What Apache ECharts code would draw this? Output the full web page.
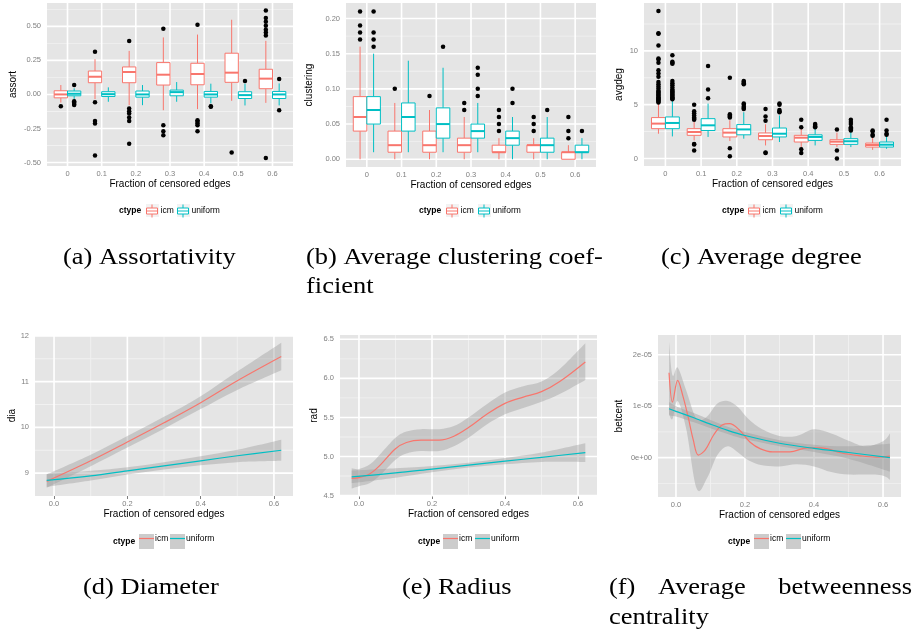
<!DOCTYPE html>
<html><head><meta charset="utf-8">
<script src="https://cdn.jsdelivr.net/npm/echarts@6/dist/echarts.min.js"></script>
<style>html,body{margin:0;padding:0;background:#fff}#chart{width:914px;height:633px}</style>
</head><body><div id="chart"></div>
<script>
// ---------- categories ----------
const fractions = ['0','0.1','0.2','0.3','0.4','0.5','0.6'];
// ---------- (a) assortativity: [lower whisker, Q1, median, Q3, upper whisker] ----------
const assortIcmStats = [[-0.06,-0.025,0.0,0.027,0.069],[-0.034,0.086,0.13,0.172,0.259],[-0.079,0.086,0.165,0.202,0.32],[-0.116,0.069,0.145,0.234,0.419],[-0.108,0.071,0.15,0.229,0.44],[-0.047,0.089,0.16,0.303,0.549],[-0.062,0.042,0.116,0.185,0.394]];
const assortIcmOutliers = [[-0.086],[0.313,-0.057,-0.195,-0.214,-0.448],[0.392,-0.103,-0.123,-0.14,-0.17,-0.195,-0.362],[0.483,-0.227,-0.27,-0.3],[0.512,-0.19,-0.2,-0.214,-0.227,-0.27],[-0.426],[0.433,0.456,0.475,0.505,0.534,0.562,0.616,-0.468]];
const assortUniformStats = [[-0.037,-0.01,0.005,0.025,0.045],[-0.054,-0.015,0.002,0.02,0.052],[-0.079,-0.02,0,0.025,0.069],[-0.054,-0.01,0.017,0.032,0.091],[-0.066,-0.02,0,0.022,0.079],[-0.081,-0.03,-0.005,0.02,0.079],[-0.081,-0.03,0,0.022,0.081]];
const assortUniformOutliers = [[0.069,-0.05,-0.06,-0.07,-0.077],[],[],[],[-0.086,-0.09],[0.099],[0.113,-0.116]];
const assortTicks = [-0.5,-0.25,0,0.25,0.5];
const assortMinor = [-0.375,-0.125,0.125,0.375,0.625];
// ---------- (b) clustering ----------
const clustIcmStats = [[0,0.04,0.06,0.089,0.16],[0,0.01,0.02,0.04,0.08],[0,0.01,0.02,0.04,0.07],[0,0.01,0.02,0.03,0.06],[0,0.01,0.01,0.02,0.03],[0,0.01,0.02,0.02,0.03],[0,0,0.01,0.01,0.02]];
const clustIcmOutliers = [[0.17,0.18,0.19,0.21],[0.1],[0.09],[0.07,0.08],[0.04,0.05,0.06,0.07],[0.04,0.05,0.06],[0.03,0.04,0.06]];
const clustUniformStats = [[0.01,0.05,0.07,0.089,0.15],[0.01,0.04,0.06,0.08,0.14],[0.01,0.03,0.05,0.073,0.13],[0.01,0.03,0.04,0.05,0.08],[0,0.02,0.03,0.04,0.06],[0,0.01,0.02,0.03,0.06],[0,0.01,0.01,0.02,0.03]];
const clustUniformOutliers = [[0.16,0.17,0.18,0.21],[],[0.16],[0.09,0.1,0.12,0.13],[0.08,0.1],[0.07],[0.04]];
const clustTicks = [0,0.05,0.1,0.15,0.2];
const clustMinor = [0.025,0.075,0.125,0.175];
// ---------- (c) average degree ----------
const avgdegIcmStats = [[2.3,2.77,3.24,3.8,5.1],[1.68,2.15,2.46,2.77,3.4],[1.62,2.0,2.4,2.77,3.55],[1.21,1.74,2.09,2.37,3.18],[1.06,1.53,1.93,2.15,2.83],[1.06,1.31,1.56,1.74,2.4],[0.8,1.06,1.25,1.43,2.0]];
const avgdegIcmOutliers = [[5.2,5.3,5.4,5.5,5.6,5.7,5.8,5.9,6.0,6.1,6.2,6.3,6.5,6.7,6.9,7.1,7.6,7.9,8.2,8.9,9.2,9.3,10.5,11.6,11.65,13.7],[3.6,3.7,3.8,4.0,4.2,4.4,5.0,1.3,1.35,0.75],[3.8,3.9,4.0,4.1,7.5,0.95,0.2],[3.5,3.9,4.6,0.5,0.55],[2.9,3.6,0.85,0.5],[2.7,0.75,0.0],[2.1,2.2,2.5,2.6]];
const avgdegUniformStats = [[2.05,2.77,3.3,3.86,5.4],[2.0,2.6,3.08,3.7,5.1],[1.84,2.2,2.7,3.15,4.3],[1.53,2.0,2.3,2.83,4.0],[1.21,1.68,2.0,2.2,2.77],[1.06,1.31,1.6,1.84,2.46],[0.9,1.06,1.28,1.53,2.15]];
const avgdegUniformOutliers = [[5.5,5.6,5.7,5.8,5.9,6.0,6.1,6.2,6.3,6.4,6.6,6.8,7.0,7.2,8.8,8.9,9.0,9.6],[5.6,6.4,8.6],[4.6,4.7,4.8,5.0,5.1,6.9,7.0,7.1,7.2],[4.3,4.4,4.5,5.0,5.1],[2.9,3.0,3.1,3.2],[2.6,2.7,2.8,2.9,3.2,3.4,3.6],[2.2,2.3,2.6,3.6]];
const avgdegTicks = [0,5,10];
const avgdegMinor = [2.5,7.5,12.5];
// ---------- (d) diameter ----------
const diaX = [-0.02,0.1,0.2,0.3,0.4,0.5,0.62];
const diaIcm = [8.82,9.27,9.68,10.1,10.54,11.02,11.55];
const diaIcmLo = [8.68,9.15,9.56,9.97,10.4,10.82,11.25];
const diaIcmHi = [8.97,9.40,9.81,10.23,10.68,11.22,11.85];
const diaUniform = [8.84,8.94,9.05,9.16,9.27,9.38,9.5];
const diaUniformLo = [8.7,8.84,8.97,9.08,9.17,9.24,9.27];
const diaUniformHi = [8.98,9.05,9.13,9.24,9.37,9.51,9.73];
const diaTicks = [9,10,11,12];
const diaMinor = [9.5,10.5,11.5];
// ---------- (e) radius ----------
const radIcmX = [-0.02,0.0,0.03,0.06,0.1,0.13,0.17,0.22,0.26,0.3,0.35,0.4,0.45,0.5,0.55,0.62];
const radIcm = [4.72,4.73,4.78,4.9,5.1,5.18,5.21,5.21,5.26,5.37,5.54,5.68,5.76,5.83,5.96,6.21];
const radIcmLo = [4.59,4.62,4.66,4.77,4.96,5.04,5.07,5.07,5.13,5.24,5.41,5.54,5.62,5.7,5.8,5.98];
const radIcmHi = [4.85,4.84,4.9,5.04,5.24,5.32,5.35,5.35,5.39,5.5,5.67,5.82,5.9,5.96,6.12,6.45];
const radUniformX = [-0.02,0.1,0.2,0.3,0.4,0.5,0.62];
const radUniform = [4.74,4.79,4.84,4.89,4.94,4.99,5.05];
const radUniformLo = [4.66,4.73,4.8,4.86,4.9,4.93,4.93];
const radUniformHi = [4.82,4.85,4.88,4.92,4.98,5.05,5.17];
const radTicks = [4.5,5.0,5.5,6.0,6.5];
const radMinor = [4.75,5.25,5.75,6.25];
// ---------- (f) betweenness centrality ----------
const betIcmX = [-0.02,-0.01,0.005,0.02,0.035,0.05,0.065,0.085,0.11,0.135,0.155,0.185,0.215,0.245,0.28,0.33,0.38,0.42,0.48,0.53,0.58,0.62];
const betIcm = [1.65e-5,1.08e-5,1.5e-5,1.2e-5,0.8e-5,0.35e-5,0.05e-5,0.15e-5,0.45e-5,0.64e-5,0.66e-5,0.53e-5,0.3e-5,0.17e-5,0.11e-5,0.11e-5,0.19e-5,0.19e-5,0.09e-5,0.04e-5,0.01e-5,0.03e-5];
const betIcmBandX = [-0.02,-0.01,0.005,0.03,0.06,0.09,0.12,0.15,0.18,0.21,0.25,0.3,0.35,0.4,0.45,0.5,0.55,0.6,0.62];
const betIcmLo = [0.85e-5,0.75e-5,1.1e-5,0.55e-5,-0.6e-5,-0.4e-5,0.05e-5,0.22e-5,0.1e-5,-0.05e-5,-0.15e-5,-0.17e-5,-0.13e-5,-0.17e-5,-0.28e-5,-0.33e-5,-0.33e-5,-0.35e-5,-0.43e-5];
const betIcmHi = [2.25e-5,1.6e-5,1.75e-5,1.3e-5,0.75e-5,0.8e-5,1.05e-5,1.1e-5,0.98e-5,0.75e-5,0.55e-5,0.42e-5,0.42e-5,0.55e-5,0.47e-5,0.33e-5,0.22e-5,0.32e-5,0.47e-5];
const betUniformX = [-0.02,0.0,0.05,0.1,0.15,0.2,0.3,0.4,0.5,0.62];
const betUniform = [0.95e-5,0.9e-5,0.78e-5,0.65e-5,0.53e-5,0.43e-5,0.28e-5,0.18e-5,0.1e-5,0.0];
const betUniformLo = [0.82e-5,0.8e-5,0.69e-5,0.57e-5,0.46e-5,0.36e-5,0.22e-5,0.11e-5,-0.02e-5,-0.27e-5];
const betUniformHi = [1.08e-5,1.0e-5,0.87e-5,0.73e-5,0.6e-5,0.5e-5,0.34e-5,0.25e-5,0.22e-5,0.27e-5];
const betTicks = [0,1e-5,2e-5];
const betMinor = [-0.5e-5,0.5e-5,1.5e-5];
// continuous x ticks
const fracTicks = [0,0.2,0.4,0.6];
const fracMinor = [0.1,0.3,0.5];

// ---------- styling ----------
const ICM = '#F8766D', UNI = '#00BFC4';
const SANS = 'Liberation Sans', SERIF = 'Liberation Serif';
const LABEL = {fontSize: 7.5, color: '#7F7F7F', fontFamily: SANS};
const TITLE = {fontSize: 10, color: '#000', fontFamily: SANS};
const TICK = {show: true, length: 3, lineStyle: {color: '#7F7F7F', width: 1}};
const BOX_W = 0.39, DODGE = 0.195;
const grids = [
  {left: 47, top: 3, width: 246, height: 163},
  {left: 346, top: 3, width: 250, height: 164},
  {left: 644, top: 3, width: 257, height: 163},
  {left: 35, top: 335, width: 258, height: 161},
  {left: 340, top: 335, width: 257, height: 161},
  {left: 658, top: 335, width: 243, height: 162}
].map(g => Object.assign({show: false, containLabel: false}, g));

const catIdx = fractions.map((f, i) => i);
const BOX_X = [-0.6, 6.6], CONT_X = [-0.052, 0.652];
function xBox(gi) {
  return {type: 'value', gridIndex: gi, min: BOX_X[0], max: BOX_X[1],
    name: 'Fraction of censored edges', nameLocation: 'middle', nameGap: 12, nameTextStyle: TITLE,
    axisLine: {show: false}, splitLine: {show: false},
    axisTick: Object.assign({customValues: catIdx}, TICK),
    axisLabel: Object.assign({customValues: catIdx, margin: 4, formatter: v => fractions[Math.round(v)]}, LABEL)};
}
function xCont(gi) {
  return {type: 'value', gridIndex: gi, min: CONT_X[0], max: CONT_X[1],
    name: 'Fraction of censored edges', nameLocation: 'middle', nameGap: 13, nameTextStyle: TITLE,
    axisLine: {show: false}, splitLine: {show: false},
    axisTick: Object.assign({customValues: fracTicks}, TICK),
    axisLabel: Object.assign({customValues: fracTicks, margin: 4, formatter: v => v.toFixed(1)}, LABEL)};
}
function yAx(gi, name, min, max, ticks, fmt, gap) {
  return {type: 'value', gridIndex: gi, min, max, name, nameLocation: 'middle', nameGap: gap, nameTextStyle: TITLE,
    axisLine: {show: false}, splitLine: {show: false},
    axisTick: Object.assign({customValues: ticks}, TICK),
    axisLabel: Object.assign({customValues: ticks, margin: 6, formatter: fmt}, LABEL)};
}
const expFmt = v => {
  if (Math.abs(v) < 1e-12) return '0e+00';
  return v.toExponential(0).replace(/e([+-])(\d+)$/, (m, s, d) => 'e' + s + (d.length < 2 ? '0' + d : d));
};

// ---------- series builders ----------
// grey panel background + grid strips, all placed through the panel's own scales
function panelSeries(gi, xMajor, xMinor, yMajor, yMinor, xRef, yRef) {
  return {type: 'custom', name: 'panel' + gi, xAxisIndex: gi, yAxisIndex: gi, z: 1, silent: true,
    data: [[xRef, yRef]], encode: {x: 0, y: 1}, clip: false,
    renderItem: (params, api) => {
      const cs = params.coordSys;
      const children = [{type: 'rect', shape: {x: cs.x, y: cs.y, width: cs.width, height: cs.height}, style: {fill: '#E5E5E5'}}];
      const hStrip = (v, w, fill) => {
        const y = api.coord([xRef, v])[1];
        children.push({type: 'rect', shape: {x: cs.x, y: y - w / 2, width: cs.width, height: w}, style: {fill}});
      };
      const vStrip = (v, w, fill) => {
        const x = api.coord([v, yRef])[0];
        children.push({type: 'rect', shape: {x: x - w / 2, y: cs.y, width: w, height: cs.height}, style: {fill}});
      };
      yMinor.forEach(v => hStrip(v, 0.9, '#F1F1F1'));
      xMinor.forEach(v => vStrip(v, 0.9, '#F1F1F1'));
      yMajor.forEach(v => hStrip(v, 1.6, '#FFFFFF'));
      xMajor.forEach(v => vStrip(v, 1.6, '#FFFFFF'));
      return {type: 'group', children};
    }};
}
function boxSeries(gi, name, stats, offset, color) {
  return {type: 'custom', name, xAxisIndex: gi, yAxisIndex: gi, z: 4, silent: true,
    data: stats.map((s, i) => [i].concat(s)),
    encode: {x: 0, y: [1, 2, 3, 4, 5]},
    itemStyle: {color},
    renderItem: (params, api) => {
      const x = api.value(0) + offset;
      const half = api.size([BOX_W, 0])[0] / 2;
      const lo = api.coord([x, api.value(1)]), q1 = api.coord([x, api.value(2)]),
            md = api.coord([x, api.value(3)]), q3 = api.coord([x, api.value(4)]), hi = api.coord([x, api.value(5)]);
      const st = {stroke: color, lineWidth: 1, fill: null};
      return {type: 'group', children: [
        {type: 'line', shape: {x1: lo[0], y1: lo[1], x2: q1[0], y2: q1[1]}, style: st},
        {type: 'line', shape: {x1: q3[0], y1: q3[1], x2: hi[0], y2: hi[1]}, style: st},
        {type: 'rect', shape: {x: q1[0] - half, y: q3[1], width: half * 2, height: Math.max(q1[1] - q3[1], 0.5)},
          style: {fill: '#FFFFFF', stroke: color, lineWidth: 1}},
        {type: 'line', shape: {x1: md[0] - half, y1: md[1], x2: md[0] + half, y2: md[1]}, style: {stroke: color, lineWidth: 2}}
      ]};
    }};
}
function outlierSeries(gi, name, outliers, offset) {
  const data = [];
  outliers.forEach((arr, i) => arr.forEach(v => data.push([i + offset, v])));
  return {type: 'scatter', name, xAxisIndex: gi, yAxisIndex: gi, data, symbolSize: 4.5, z: 5, silent: true,
    itemStyle: {color: '#000', opacity: 1}};
}
function smoothPath(pts, cmd) {
  let d = cmd + pts[0][0] + ',' + pts[0][1];
  const t = 1 / 6;
  for (let i = 0; i < pts.length - 1; i++) {
    const p0 = pts[Math.max(i - 1, 0)], p1 = pts[i], p2 = pts[i + 1], p3 = pts[Math.min(i + 2, pts.length - 1)];
    const c1 = [p1[0] + (p2[0] - p0[0]) * t, p1[1] + (p2[1] - p0[1]) * t];
    const c2 = [p2[0] - (p3[0] - p1[0]) * t, p2[1] - (p3[1] - p1[1]) * t];
    d += 'C' + c1[0] + ',' + c1[1] + ' ' + c2[0] + ',' + c2[1] + ' ' + p2[0] + ',' + p2[1];
  }
  return d;
}
function bandSeries(gi, name, xs, lo, hi) {
  const rows = xs.map((x, i) => [x, lo[i], hi[i]]);
  return {type: 'custom', name, xAxisIndex: gi, yAxisIndex: gi, z: 3, silent: true,
    data: rows, encode: {x: 0, y: [1, 2]},
    renderItem: (params, api) => {
      if (params.dataIndex !== 0) return null;
      const top = rows.map(r => api.coord([r[0], r[2]]));
      const bot = rows.map(r => api.coord([r[0], r[1]])).reverse();
      return {type: 'path', shape: {pathData: smoothPath(top, 'M') + smoothPath(bot, 'L') + 'Z'},
        style: {fill: 'rgba(153,153,153,0.4)', stroke: null, lineWidth: 0}};
    }};
}
function lineSeries(gi, name, xs, ys, color) {
  return {type: 'line', name, xAxisIndex: gi, yAxisIndex: gi, z: 4, silent: true,
    data: xs.map((x, i) => [x, ys[i]]), smooth: 0.35, symbol: 'none', showSymbol: false,
    lineStyle: {color, width: 1.2}, itemStyle: {color}};
}

// ---------- legends ----------
const BOX_ICON = 'path://M6.5,0L6.5,3.5M1,3.5L12,3.5L12,9.5L1,9.5ZM1,6.5L12,6.5M6.5,9.5L6.5,13';
const LINE_ICON = 'path://M0,0L15,0L15,1.2L0,1.2Z';
const legendRows = [
  {ctype: 119, keys: [146, 177], top: 204, size: 13, kind: 'box', pad: -3},
  {ctype: 419, keys: [446, 478], top: 204, size: 13, kind: 'box', pad: -3},
  {ctype: 722, keys: [748, 780], top: 204, size: 13, kind: 'box', pad: -3},
  {ctype: 113, keys: [139, 170], top: 534, size: 15, kind: 'line', pad: -4},
  {ctype: 418, keys: [443, 475], top: 534, size: 15, kind: 'line', pad: -4},
  {ctype: 728, keys: [754, 786], top: 534, size: 15, kind: 'line', pad: -4}
];
const legendNames = ['icm', 'uniform'];
const legendColors = [ICM, UNI];
const legends = [];
const graphics = [];
legendRows.forEach(r => {
  graphics.push({type: 'text', x: r.ctype, y: r.top + r.size / 2,
    style: {text: 'ctype', fontSize: 8.5, fontWeight: 'bold', fontFamily: SANS, fill: '#000', verticalAlign: 'middle', align: 'left'}});
  r.keys.forEach((k, j) => {
    graphics.push({type: 'rect', z: 0, shape: {x: k, y: r.top, width: r.size, height: r.size},
      style: {fill: r.kind === 'box' ? '#F2F2F2' : '#CCCCCC'}});
    const item = r.kind === 'box'
      ? {name: legendNames[j], icon: BOX_ICON, itemStyle: {color: '#FFFFFF', borderColor: legendColors[j], borderWidth: 1}}
      : {name: legendNames[j], icon: LINE_ICON, itemStyle: {color: legendColors[j], borderWidth: 0}};
    legends.push({left: k, top: r.top, padding: 0, itemWidth: r.size, itemHeight: r.size, itemGap: 0,
      selectedMode: false, symbolKeepAspect: true, data: [item],
      textStyle: {fontSize: 8.5, color: '#000', fontFamily: SANS, padding: [0, 0, 0, r.pad]}});
  });
});

// ---------- captions ----------
function caption(text, x, y, align) {
  graphics.push({type: 'text', x, y, scaleX: 1.15,
    style: {text, fontSize: 23, fontFamily: SERIF, fill: '#000', verticalAlign: 'middle', align: align || 'left'}});
}
caption('(a) Assortativity', 63, 258);
caption('(b) Average clustering coef-', 306, 258);
caption('ficient', 306, 287);
caption('(c) Average degree', 661, 258);
caption('(d) Diameter', 83, 588);
caption('(e) Radius', 402, 588);
caption('(f)', 609, 588);
caption('Average', 658, 588);
caption('betweenness', 912, 588, 'right');
caption('centrality', 609, 618);

// ---------- assemble ----------
const series = [
  boxSeries(0, 'icm', assortIcmStats, -DODGE, ICM),
  boxSeries(0, 'uniform', assortUniformStats, DODGE, UNI),
  boxSeries(1, 'icm', clustIcmStats, -DODGE, ICM),
  boxSeries(1, 'uniform', clustUniformStats, DODGE, UNI),
  boxSeries(2, 'icm', avgdegIcmStats, -DODGE, ICM),
  boxSeries(2, 'uniform', avgdegUniformStats, DODGE, UNI),
  outlierSeries(0, 'icm outliers', assortIcmOutliers, -DODGE),
  outlierSeries(0, 'uniform outliers', assortUniformOutliers, DODGE),
  outlierSeries(1, 'icm outliers', clustIcmOutliers, -DODGE),
  outlierSeries(1, 'uniform outliers', clustUniformOutliers, DODGE),
  outlierSeries(2, 'icm outliers', avgdegIcmOutliers, -DODGE),
  outlierSeries(2, 'uniform outliers', avgdegUniformOutliers, DODGE),
  panelSeries(0, catIdx, [], assortTicks, assortMinor, 0, 0),
  panelSeries(1, catIdx, [], clustTicks, clustMinor, 0, 0.1),
  panelSeries(2, catIdx, [], avgdegTicks, avgdegMinor, 0, 5),
  panelSeries(3, fracTicks, fracMinor, diaTicks, diaMinor, 0.3, 10),
  panelSeries(4, fracTicks, fracMinor, radTicks, radMinor, 0.3, 5.5),
  panelSeries(5, fracTicks, fracMinor, betTicks, betMinor, 0.3, 1e-5),
  bandSeries(3, 'icm band', diaX, diaIcmLo, diaIcmHi),
  bandSeries(3, 'uniform band', diaX, diaUniformLo, diaUniformHi),
  bandSeries(4, 'icm band', radIcmX, radIcmLo, radIcmHi),
  bandSeries(4, 'uniform band', radUniformX, radUniformLo, radUniformHi),
  bandSeries(5, 'icm band', betIcmBandX, betIcmLo, betIcmHi),
  bandSeries(5, 'uniform band', betUniformX, betUniformLo, betUniformHi),
  lineSeries(3, 'icm', diaX, diaIcm, ICM),
  lineSeries(3, 'uniform', diaX, diaUniform, UNI),
  lineSeries(4, 'icm', radIcmX, radIcm, ICM),
  lineSeries(4, 'uniform', radUniformX, radUniform, UNI),
  lineSeries(5, 'icm', betIcmX, betIcm, ICM),
  lineSeries(5, 'uniform', betUniformX, betUniform, UNI)
];

const option = {
  animation: false,
  backgroundColor: '#FFFFFF',
  grid: grids,
  xAxis: [xBox(0), xBox(1), xBox(2), xCont(3), xCont(4), xCont(5)],
  yAxis: [
    yAx(0, 'assort', -0.526, 0.672, assortTicks, v => v.toFixed(2), 29),
    yAx(1, 'clustering', -0.011, 0.222, clustTicks, v => v.toFixed(2), 32),
    yAx(2, 'avgdeg', -0.7, 14.45, avgdegTicks, v => String(v), 20),
    yAx(3, 'dia', 8.5, 12.02, diaTicks, v => String(v), 17),
    yAx(4, 'rad', 4.495, 6.555, radTicks, v => v.toFixed(1), 21),
    yAx(5, 'betcent', -0.765e-5, 2.383e-5, betTicks, expFmt, 34)
  ],
  legend: legends,
  graphic: graphics,
  series
};
const chart = echarts.init(document.getElementById('chart'), null, {renderer: 'canvas'});
chart.setOption(option);
</script>
</body></html>
